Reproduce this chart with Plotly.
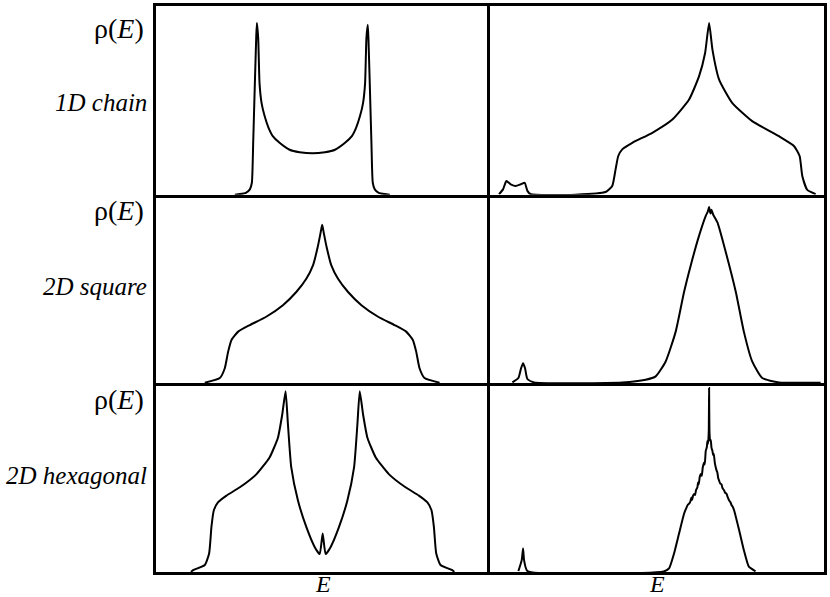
import plotly.graph_objects as go
from plotly.subplots import make_subplots

# ---- data (E and rho in arbitrary units, 0-100 per panel) ----
E_chain = [23.6, 25.1, 26.9, 28.1, 28.7, 29.1, 29.6, 30.0, 30.2, 30.6, 31.0, 31.6, 32.5, 33.7, 34.9, 37.0, 40.0, 43.0, 46.9,
           50.6, 53.6, 56.6, 58.7, 59.9, 61.1, 62.0, 62.6, 63.0, 63.4, 63.6, 64.0, 64.5, 64.9, 65.5, 66.7, 68.5, 70.0]
rho_chain = [0, 0.3, 1, 2.8, 6.3, 27.5, 59, 83, 91, 83, 59, 48.7, 41.8, 35.4, 31.2, 27.5, 23.8, 22.5, 21.9,
             22.5, 23.8, 27.5, 31.2, 35.4, 41.8, 48.7, 59, 83, 90, 83, 59, 27.5, 6.3, 2.8, 1, 0.3, 0]

E_square = [14.6, 19.1, 20.6, 21.6, 22.6, 24.6, 28.1, 33.0, 38.0, 42.0, 45.0, 47.0, 48.4, 49.3, 49.75,
            50.2, 51.1, 52.5, 54.5, 57.5, 61.5, 66.5, 71.4, 74.9, 76.9, 77.9, 78.9, 80.4, 84.9]
rho_square = [0.3, 2.8, 8, 16.8, 23, 27.4, 30.9, 35.3, 41.4, 48.4, 55.4, 62.5, 72.1, 80, 84,
              80, 72.1, 62.5, 55.4, 48.4, 41.4, 35.3, 30.9, 27.4, 23, 16.8, 8, 2.8, 0.3]

E_hex = [10.5, 11.1, 14.6, 15.9, 16.6, 17.3, 18.6, 21.1, 25.1, 30.1, 34.0, 36.5, 37.8, 38.8, 39.5, 40.5, 42.5, 45.0, 47.5, 49.0,
         49.9, 50.8, 52.3, 54.8, 57.3, 59.3, 60.3, 61.0, 62.0, 63.3, 65.8, 69.7, 74.7, 78.7, 81.2, 82.5, 83.2, 83.9, 85.2, 88.7, 89.3]
rho_hex = [0, 1, 3.7, 9.8, 23.9, 32.6, 37, 40.5, 44.9, 51.9, 60.7, 71.2, 83.5, 95.8, 78.3, 55.4, 37.9, 23.9, 13.3, 9.5,
           20.4, 9.5, 13.3, 23.9, 37.9, 55.4, 78.3, 95.8, 83.5, 71.2, 60.7, 51.9, 44.9, 40.5, 37, 32.6, 23.9, 9.8, 3.7, 1, 0]

E_chain_dis = [2.7, 3.9, 4.9, 6.2, 7.7, 9.2, 10.4, 11.2, 12.2, 25.6, 34.6, 36.6, 37.6, 38.4, 39.6, 42.6, 48.6, 54.6, 59.6, 62.6,
               64.4, 65.6, 66.6, 68.6, 72.5, 78.5, 86.5, 91.0, 92.7, 93.5, 95.0, 97.5]
rho_chain_dis = [0.3, 2.8, 7.2, 5.5, 4.6, 5.5, 6.3, 2, 0.2, 0, 1.4, 4.6, 13.4, 20.5, 24, 27.5, 32.8, 39.8, 50.4, 62.8,
                 75.1, 91, 76.9, 61, 48.7, 39, 31, 25.8, 20.5, 9.9, 2.5, 0.3]

E_square_dis = [6.7, 8.5, 9.3, 9.9, 10.5, 11.2, 13.2, 39.6, 46.6, 49.6, 52.6, 55.6, 58.1, 60.1, 62.6, 64.6, 65.2, 65.6, 66.0,
                66.3, 66.8, 68.1, 70.6, 73.6, 76.0, 78.5, 81.5, 86.5, 99]
rho_square_dis = [0.5, 2.8, 8, 10.7, 8, 2.3, 0.5, 0.5, 1.9, 3.7, 11.6, 27.4, 48.4, 62.5, 78.3, 88.8, 91, 93.5, 90,
                  92, 89.5, 85.3, 69.5, 48.4, 27.4, 11.6, 2.8, 0.5, 0.3]

E_hex_dis = [8.5, 9.5, 9.9, 10.2, 11.2, 52.0, 53.6, 55.1, 56.6,
             58.1, 58.8, 59.2, 59.6, 60.0, 60.3, 60.5, 60.8, 61.1, 61.4, 61.7, 62.1, 62.3, 62.5, 62.8, 63.1, 63.4, 63.7,
             64.1, 64.3, 64.6, 64.9, 65.1, 65.3, 65.5, 65.6,
             65.7, 65.9, 66.1, 66.3, 66.6, 66.8, 67.0, 67.3, 67.6, 67.8, 68.1, 68.3, 68.6, 68.9, 69.3, 69.6, 70.1, 70.4,
             70.8, 71.2, 71.6, 72.0, 72.3, 72.7, 73.1, 74.6, 76.0, 77.5, 79.5]
rho_hex_dis = [0.5, 6.3, 12.5, 6.3, 0.5, 0.3, 1.9, 9.8, 20.4,
               30.9, 34, 35.5, 36.2, 37.5, 39.5, 38.2, 40.5, 41.4, 40.8, 43.5, 44.9, 47.5, 46.5, 50.5, 52, 51, 55.4,
               58, 57, 64.2, 66, 69.5, 68, 75, 97.5,
               75, 69.5, 70, 66, 64.2, 62, 62.5, 58, 55.4, 54, 52.5, 50, 48.4, 47, 46.5, 44.5, 43.2, 42,
               41.5, 39.5, 37.9, 37, 35.5, 34.5, 32.6, 22.1, 11.6, 2.8, 0.4]

row_names = ["1D chain", "2D square", "2D hexagonal"]
y_label = "ρ(<i>E</i>)"
x_label = "<i>E</i>"

panels = [
    (1, 1, E_chain, rho_chain), (1, 2, E_chain_dis, rho_chain_dis),
    (2, 1, E_square, rho_square), (2, 2, E_square_dis, rho_square_dis),
    (3, 1, E_hex, rho_hex), (3, 2, E_hex_dis, rho_hex_dis),
]

fig = make_subplots(rows=3, cols=2, horizontal_spacing=0, vertical_spacing=0)
for r, c, xs, ys in panels:
    fig.add_trace(go.Scatter(x=xs, y=ys, mode="lines",
                             line=dict(color="black", width=2, shape="spline", smoothing=0.5),
                             showlegend=False, hoverinfo="skip"), row=r, col=c)

LW = 2.5
common = dict(range=[0, 100], showline=True, linecolor="black", linewidth=LW,
              showgrid=False, zeroline=False, showticklabels=False, ticks="", fixedrange=True)
for r in (1, 2, 3):
    for c in (1, 2):
        fig.update_xaxes(mirror=(r == 1), **common, row=r, col=c)
        fig.update_yaxes(mirror=(c == 2), **common, row=r, col=c)

W, H = 830, 597
L, R, T, B = 156, 5, 3, 25
pw, ph = W - L - R, H - T - B

def px(x):
    return (x - L) / pw

def py(y):
    return (H - B - y) / ph

serif = "Liberation Serif, Times New Roman, serif"
anns = []
for yy, name, yn in [(26, row_names[0], 100), (209, row_names[1], 285), (399, row_names[2], 475)]:
    anns.append(dict(x=px(146), y=py(yy), xref="paper", yref="paper", text=y_label, showarrow=False,
                     xanchor="right", yanchor="middle", font=dict(family=serif, size=28, color="black")))
    anns.append(dict(x=px(149), y=py(yn), xref="paper", yref="paper", text="<i>" + name + "</i>", showarrow=False,
                     xanchor="right", yanchor="middle", font=dict(family=serif, size=25, color="black")))
for xc in (323.5, 658):
    anns.append(dict(x=px(xc), y=py(584), xref="paper", yref="paper", text=x_label, showarrow=False,
                     xanchor="center", yanchor="middle", font=dict(family=serif, size=24, color="black")))

fig.update_layout(width=W, height=H, margin=dict(l=L, r=R, t=T, b=B), paper_bgcolor="white",
                  plot_bgcolor="white", annotations=anns, hovermode=False)

fig.write_html("out.html", config={"displayModeBar": False},
               post_script="document.body.style.margin='0px';document.body.style.overflow='hidden';")
